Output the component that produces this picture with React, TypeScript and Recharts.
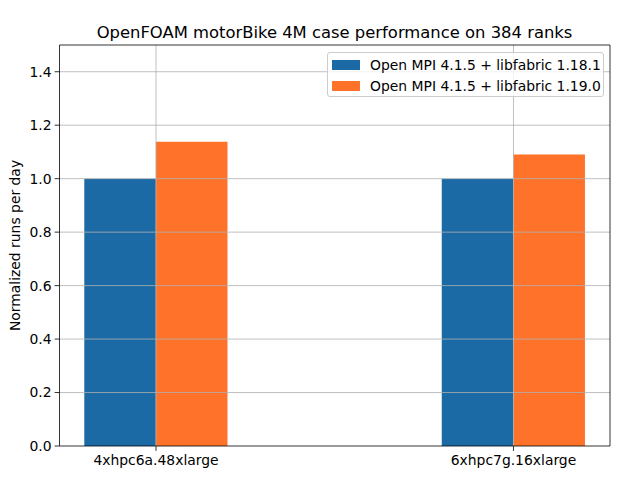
import React from 'react';
import { BarChart, Bar, XAxis, YAxis, ReferenceLine, Legend } from 'recharts';

const categories = ['4xhpc6a.48xlarge', '6xhpc7g.16xlarge'];
const categoryPositions = [0, 1];
const libfabric1181 = [1.0, 1.0];
const libfabric1190 = [1.138, 1.09];
const yTicks = [0, 0.2, 0.4, 0.6, 0.8, 1.0, 1.2, 1.4];
const seriesNames = ['Open MPI 4.1.5 + libfabric 1.18.1', 'Open MPI 4.1.5 + libfabric 1.19.0'];
const seriesColors = ['#1c6aa5', '#fe7329'];
const title = 'OpenFOAM motorBike 4M case performance on 384 ranks';
const yLabel = 'Normalized runs per day';

const data = categories.map((c, i) => ({
  name: c,
  x: categoryPositions[i],
  a: libfabric1181[i],
  b: libfabric1190[i],
}));

const FONT = 'DejaVu Sans, sans-serif';
const X_DOMAIN: [number, number] = [-0.27, 1.27];
const Y_DOMAIN: [number, number] = [0, 1.5];

const renderLegend = () => (
  <div
    style={{
      border: '1px solid #cccccc',
      borderRadius: 3,
      background: 'rgba(255,255,255,0.8)',
      boxSizing: 'border-box',
      width: 277,
      height: 45,
      padding: '1px 0 0 4px',
      fontFamily: FONT,
      fontSize: 13.9,
      color: '#000',
    }}
  >
    {seriesNames.map((n, i) => (
      <div key={n} style={{ display: 'flex', alignItems: 'center', height: 21 }}>
        <span style={{ display: 'inline-block', width: 28, height: 10, background: seriesColors[i], marginRight: 10 }} />
        <span style={{ whiteSpace: 'nowrap' }}>{n}</span>
      </div>
    ))}
  </div>
);

export default function App() {
  return (
    <div style={{ position: 'absolute', left: 0, top: 0, width: 632, height: 483, background: '#fff' }}>
      <BarChart
        width={632}
        height={483}
        data={data}
        margin={{ top: 45, right: 22, bottom: 0, left: 0 }}
        barGap={0}
        barSize={71.6}
      >
        <XAxis
          dataKey="x"
          type="number"
          domain={X_DOMAIN}
          ticks={categoryPositions}
          allowDataOverflow
          height={37}
          tickFormatter={(v: number) => categories[categoryPositions.indexOf(v)] ?? ''}
          tick={{ fontSize: 13.9, fill: '#000', fontFamily: FONT }}
          tickSize={4.9}
          tickMargin={4}
          axisLine={{ stroke: '#000', strokeWidth: 0.8 }}
          tickLine={{ stroke: '#000', strokeWidth: 0.8 }}
        />
        <YAxis
          type="number"
          domain={Y_DOMAIN}
          ticks={yTicks}
          allowDataOverflow
          width={59.5}
          tickFormatter={(v: number) => v.toFixed(1)}
          tick={{ fontSize: 13.9, fill: '#000', fontFamily: FONT }}
          tickSize={4.9}
          tickMargin={3}
          axisLine={{ stroke: '#000', strokeWidth: 0.8 }}
          tickLine={{ stroke: '#000', strokeWidth: 0.8 }}
        />
        <Bar dataKey="a" name={seriesNames[0]} fill={seriesColors[0]} isAnimationActive={false} />
        <Bar dataKey="b" name={seriesNames[1]} fill={seriesColors[1]} isAnimationActive={false} />
        {yTicks.slice(1).map((t) => (
          <ReferenceLine key={'gy' + t} y={t} stroke="#b0b0b0" strokeWidth={0.8} />
        ))}
        {categoryPositions.map((p) => (
          <ReferenceLine key={'gx' + p} x={p} stroke="#b0b0b0" strokeWidth={0.8} />
        ))}
        <ReferenceLine y={1.5} stroke="#000" strokeWidth={0.8} />
        <ReferenceLine x={1.27} stroke="#000" strokeWidth={0.8} />
        <Legend
          layout="vertical"
          align="center"
          verticalAlign="middle"
          content={renderLegend}
          wrapperStyle={{ top: 52, left: 327, width: 277, height: 45 }}
        />
      </BarChart>
      <svg
        width={632}
        height={483}
        style={{ position: 'absolute', left: 0, top: 0, pointerEvents: 'none' }}
      >
        <text x={334.5} y={37.5} textAnchor="middle" fontFamily={FONT} fontSize={16.4} fill="#000">
          {title}
        </text>
        <text
          x={0}
          y={0}
          transform="translate(19.5 245.5) rotate(-90)"
          textAnchor="middle"
          fontFamily={FONT}
          fontSize={13.9}
          fill="#000"
        >
          {yLabel}
        </text>
      </svg>
    </div>
  );
}
